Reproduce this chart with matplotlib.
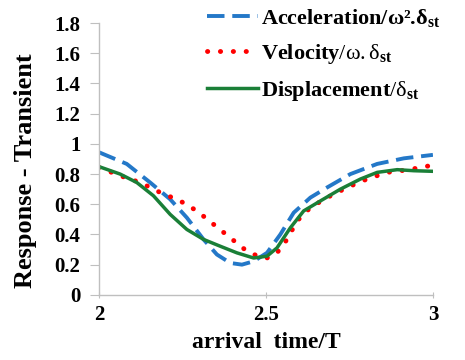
import matplotlib
matplotlib.use("Agg")
import matplotlib.pyplot as plt

plt.rcParams['font.family'] = ['Liberation Serif', 'DejaVu Serif']
plt.rcParams['mathtext.fontset'] = 'custom'
plt.rcParams['mathtext.rm'] = 'Liberation Serif'
plt.rcParams['mathtext.it'] = 'Liberation Serif:italic'
plt.rcParams['mathtext.bf'] = 'Liberation Serif:bold'

# values
acc_x = [2.0, 2.083, 2.153, 2.213, 2.263, 2.313, 2.353, 2.393, 2.428, 2.463,
         2.503, 2.543, 2.583, 2.633, 2.683, 2.753, 2.833, 2.913, 3.0]
acc_y = [0.944, 0.867, 0.744, 0.633, 0.511, 0.367, 0.267, 0.211, 0.2, 0.222,
         0.278, 0.4, 0.544, 0.644, 0.711, 0.8, 0.867, 0.904, 0.927]

vel_x = [2.0, 2.063, 2.123, 2.183, 2.243, 2.293, 2.343, 2.393, 2.443, 2.483,
         2.503, 2.533, 2.563, 2.593, 2.633, 2.683, 2.743, 2.803, 2.863, 2.923, 2.993]
vel_y = [0.844, 0.789, 0.744, 0.678, 0.622, 0.556, 0.467, 0.378, 0.289, 0.249,
         0.244, 0.278, 0.367, 0.489, 0.578, 0.644, 0.711, 0.767, 0.811, 0.827, 0.856]

dis_x = [2.0, 2.063, 2.113, 2.163, 2.213, 2.263, 2.313, 2.363, 2.413, 2.463,
         2.503, 2.533, 2.573, 2.613, 2.663, 2.723, 2.783, 2.833, 2.893, 2.943, 3.0]
dis_y = [0.849, 0.8, 0.744, 0.656, 0.533, 0.433, 0.367, 0.322, 0.278, 0.244,
         0.256, 0.311, 0.444, 0.556, 0.622, 0.7, 0.767, 0.811, 0.829, 0.822, 0.818]

x_ticks = [2, 2.5, 3]
x_ticklabels = ['2', '2.5', '3']
y_ticks = [0, 0.2, 0.4, 0.6, 0.8, 1, 1.2, 1.4, 1.6, 1.8]
y_ticklabels = ['0', '0.2', '0.4', '0.6', '0.8', '1', '1.2', '1.4', '1.6', '1.8']

fig = plt.figure(figsize=(4.65, 3.6), dpi=100)
ax = fig.add_axes([0.213, 0.181, 0.718, 0.755])

ax.plot(acc_x, acc_y, color='#2478C8', lw=2.8, linestyle=(0, (4.5, 2)),
        label='Acceleration/ω².δ$_{\\mathbf{st}}$')
ax.plot(vel_x, vel_y, color='red', lw=3.5, linestyle=(0, (0.05, 2.6)),
        dash_capstyle='round', label='Velocity$\\mathrm{/\\omega.\\delta}_{\\mathbf{st}}$')
ax.plot(dis_x, dis_y, color='#1A7F37', lw=2.5,
        label='Displacement$\\mathrm{/\\delta}_{\\mathbf{st}}$')

ax.set_xlim(2, 3)
ax.set_ylim(0, 1.8)
ax.set_xticks(x_ticks)
ax.set_xticklabels(x_ticklabels, fontsize=15, fontweight='bold')
ax.set_yticks(y_ticks)
ax.set_yticklabels(y_ticklabels, fontsize=15, fontweight='bold')

for s in ['top', 'right']:
    ax.spines[s].set_visible(False)
for s in ['left', 'bottom']:
    ax.spines[s].set_color('#BFBFBF')
    ax.spines[s].set_linewidth(1.0)
ax.tick_params(axis='y', color='#BFBFBF', length=6.5, pad=7)
ax.tick_params(axis='x', color='#BFBFBF', length=4, direction='inout', pad=5)

ax.set_xlabel('arrival  time/T', fontsize=17, fontweight='bold', labelpad=5)
ax.set_ylabel('Response - Transient', fontsize=19, fontweight='bold')
ax.yaxis.set_label_coords(-0.185, 0.455)

fig.legend(loc='upper left', bbox_to_anchor=(0.425, 1.005), frameon=False,
           borderaxespad=0, prop={'size': 16, 'weight': 'bold'}, handlelength=2.3,
           handletextpad=0.15, labelspacing=0.58)

fig.savefig('out.png', dpi=100)
